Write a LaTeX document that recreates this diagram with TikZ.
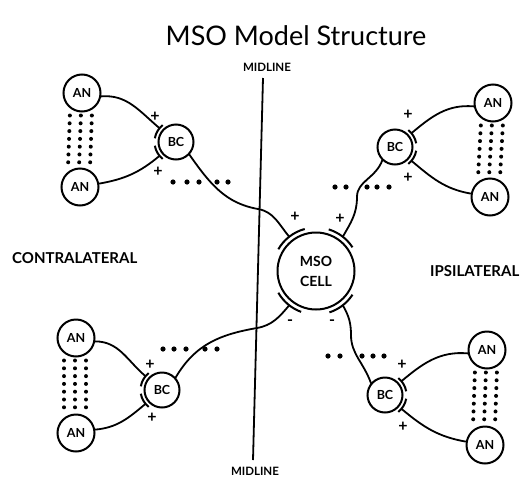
\documentclass[tikz,border=0pt]{standalone}
\usepackage{fontspec}
\setmainfont{Lato}
\usepackage{tikz}

\newcommand\synarc[4]{\draw[syn] ([shift={(#3:#2)}]#1.center) arc[start angle=#3,end angle=#4,radius=#2];}

\tikzset{
  cell/.style={circle,draw,line width=2pt,inner sep=0pt,font=\bfseries\fontsize{12.5}{12.5}\selectfont},
  ancell/.style={cell,minimum size=37pt},
  bccell/.style={cell,minimum size=35pt,outer sep=4pt},
  msocell/.style={cell,minimum size=77pt,outer sep=5pt,align=center,font=\bfseries\fontsize{14}{20}\selectfont},
  fiber/.style={line width=1.8pt},
  axon/.style={fiber,shorten <=-4pt},
  syn/.style={line width=2pt},
  sign/.style={inner sep=0pt,font=\bfseries\fontsize{16}{16}\selectfont},
  dotcol/.style={line width=4pt,line cap=round,dash pattern=on 0pt off 7.8pt,shorten <=3pt,shorten >=3pt},
  lbl/.style={inner sep=0pt,font=\bfseries\fontsize{15}{15}\selectfont}
}

\begin{document}
\begin{tikzpicture}[x=1pt,y=1pt]
  \useasboundingbox (0,0) rectangle (522,-477);

  % labels
  \node (title) at (296,-36) {\fontsize{27}{27}\selectfont MSO Model Structure};
  \node[lbl,font=\bfseries\fontsize{11.5}{11.5}\selectfont] (midtop) at (267,-67) {MIDLINE};
  \node[lbl,font=\bfseries\fontsize{11.5}{11.5}\selectfont] (midbot) at (255,-471) {MIDLINE};
  \node[lbl,anchor=west] (contra) at (12,-258) {CONTRALATERAL};
  \node[lbl,anchor=west] (ipsi) at (430,-271) {IPSILATERAL};

  \coordinate (mtop) at (263,-78);
  \coordinate (mbot) at (253,-460);
  \draw[line width=1.8pt] (mtop) -- (mbot);

  % cells
  \node[msocell] (mso) at (316,-271) {MSO\\CELL};

  \node[ancell] (an1) at (82,-93) {AN};
  \node[ancell] (an2) at (80,-187) {AN};
  \node[bccell] (bc1) at (176,-142) {BC};

  \node[ancell] (an3) at (493,-103) {AN};
  \node[ancell] (an4) at (490,-197) {AN};
  \node[bccell] (bc2) at (395,-147) {BC};

  \node[ancell] (an5) at (76,-338) {AN};
  \node[ancell] (an6) at (76,-433) {AN};
  \node[bccell] (bc3) at (162,-390) {BC};

  \node[ancell] (an7) at (487,-350) {AN};
  \node[ancell] (an8) at (485,-445) {AN};
  \node[bccell] (bc4) at (385,-395) {BC};

  % dotted columns between AN cells
  \foreach \a/\b in {an1/an2,an3/an4,an5/an6,an7/an8}
    \foreach \s in {-12,-1,10}
      \draw[dotcol] ([xshift=\s pt]\a.south) -- ([xshift=\s pt]\b.north);

  % AN to BC fibers
  \draw[fiber] (an1.-10) to[out=5,in=140] (bc1.140);
  \draw[fiber] (an2.10) to[out=10,in=-140] (bc1.-140);
  \draw[fiber] (an3.190) to[out=175,in=40] (bc2.40);
  \draw[fiber] (an4.170) to[out=170,in=-40] (bc2.-40);
  \draw[fiber] (an5.-10) to[out=0,in=140] (bc3.140);
  \draw[fiber] (an6.10) to[out=5,in=-140] (bc3.-140);
  \draw[fiber] (an7.190) to[out=175,in=40] (bc4.40);
  \draw[fiber] (an8.170) to[out=170,in=-40] (bc4.-40);

  % BC synapses
  \foreach \n in {bc1,bc3} {
    \synarc{\n}{21.5pt}{128}{170}
    \synarc{\n}{21.5pt}{190}{232}
  }
  \foreach \n in {bc2,bc4} {
    \synarc{\n}{21.5pt}{10}{52}
    \synarc{\n}{21.5pt}{-52}{-10}
  }

  % BC axons to the MSO cell
  \draw[axon] (bc1.-45) to[out=-55,in=170] (258,-209) to[out=-10,in=130] (mso.128);
  \draw[axon] (bc2.-130) to[out=-110,in=90] (357,-197) to[out=-90,in=60] (mso.52);
  \draw[axon] (bc3.45) to[out=60,in=190] (257,-328) to[out=10,in=-130] (mso.232);
  \draw[axon] (bc4.135) to[out=110,in=-90] (351,-335) to[out=90,in=-60] (mso.-52);

  % MSO synapses
  \synarc{mso}{43.5pt}{105}{150}
  \synarc{mso}{43.5pt}{33}{73}
  \synarc{mso}{43.5pt}{210}{250}
  \synarc{mso}{43.5pt}{288}{327}

  % signs
  \node[sign] (p1) at (155,-117) {+};
  \node[sign] (p2) at (158,-172) {+};
  \node[sign] (p3) at (408,-115) {+};
  \node[sign] (p4) at (408,-178) {+};
  \node[sign] (p5) at (150,-365) {+};
  \node[sign] (p6) at (152,-418) {+};
  \node[sign] (p7) at (402,-365) {+};
  \node[sign] (p8) at (403,-427) {+};
  \node[sign] (p9) at (295,-217) {+};
  \node[sign] (p10) at (340,-219) {+};
  \node[sign] (m1) at (290,-323) {-};
  \node[sign] (m2) at (332,-323) {-};

  % rows of further cells
  \foreach \x in {173,187,199,217,228} \fill (\x,-182) circle (2.6pt);
  \foreach \x in {335,346,367,377,389} \fill (\x,-187) circle (2.6pt);
  \foreach \x in {163,174,186,205,217} \fill (\x,-349) circle (2.6pt);
  \foreach \x in {328,340,362,373,384} \fill (\x,-356) circle (2.6pt);
\end{tikzpicture}
\end{document}
